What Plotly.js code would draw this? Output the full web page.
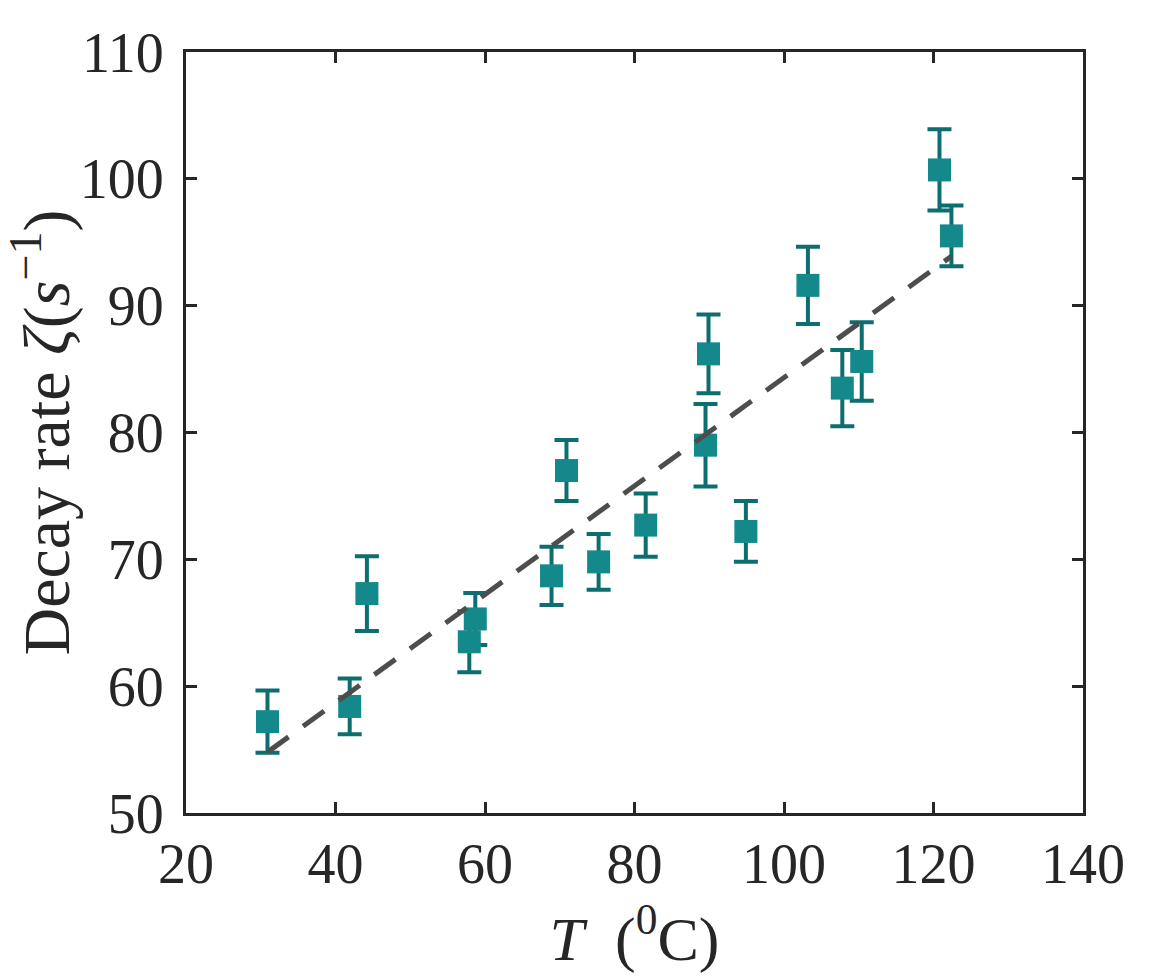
<!DOCTYPE html>
<html>
<head>
<meta charset="utf-8">
<script src="https://cdn.plot.ly/plotly-3.0.1.min.js"></script>
<style>
    html, body { margin: 0; padding: 0; background: #fff; }
    #decay-plot { width: 1156px; height: 978px; }
</style>
</head>
<body>
<div id="decay-plot"></div>
<script>
// temperature (deg C), decay rate (1/s) and its error
const temps = [30.9, 41.9, 44.2, 57.9, 58.7, 68.9, 70.9, 75.2, 81.5, 89.5, 89.9, 94.9, 103.2, 107.8, 110.4, 120.8, 122.4]
const rates = [57.2, 58.4, 67.3, 63.5, 65.3, 68.7, 77.0, 69.8, 72.7, 79.0, 86.2, 72.2, 91.6, 83.5, 85.6, 100.7, 95.5]
const errs = [2.45, 2.2, 2.95, 2.4, 2.05, 2.3, 2.4, 2.2, 2.5, 3.25, 3.1, 2.4, 3.05, 3.0, 3.1, 3.2, 2.4]

// linear fit, end points
const fitT = [30.9, 122.4]
const fitRate = [54.8, 93.9]

const xTicks = [20, 40, 60, 80, 100, 120, 140]
const yTicks = [50, 60, 70, 80, 90, 100, 110]

window.addEventListener('DOMContentLoaded', () => {
    plotDecay()
})

function plotDecay() {
    let target = document.getElementById('decay-plot')
    const font = 'Liberation Serif, Times New Roman, serif'
    const data = [{
        type: 'scatter',
        mode: 'markers',
        x: temps,
        y: rates,
        error_y: {
            type: 'data',
            array: errs,
            visible: true,
            color: '#0d6e70',
            thickness: 4,
            width: 12
        },
        marker: {
            symbol: 'square',
            size: 23,
            color: '#14898b'
        },
        hoverinfo: 'x+y'
    }, {
        type: 'scatter',
        mode: 'lines',
        x: fitT,
        y: fitRate,
        line: {
            color: '#4d4d4d',
            width: 5,
            dash: '26px,18px'
        }
    }]
    const axisBase = {
        showgrid: false,
        zeroline: false,
        showline: true,
        linecolor: '#262626',
        linewidth: 3,
        mirror: 'ticks',
        ticks: 'inside',
        ticklen: 11,
        tickwidth: 3,
        tickcolor: '#262626',
        tickfont: {family: font, size: 56, color: '#262626'}
    }
    const layout = {
        width: 1156,
        height: 978,
        margin: {l: 186, r: 73, t: 52, b: 165, pad: 0},
        showlegend: false,
        paper_bgcolor: '#ffffff',
        plot_bgcolor: '#ffffff',
        xaxis: Object.assign({}, axisBase, {
            range: [20, 140],
            tickvals: xTicks,
            ticklabelstandoff: 0,
            title: {
                text: '<i>T</i>  (<sup>0</sup>C)',
                font: {family: font, size: 62, color: '#262626'},
                standoff: 6
            }
        }),
        yaxis: Object.assign({}, axisBase, {
            range: [50, 110],
            tickvals: yTicks,
            ticklabelstandoff: 8,
            title: {
                text: 'Decay rate <i>ζ</i>(<i>s</i><sup>−1</sup>)',
                font: {family: font, size: 66, color: '#262626'},
                standoff: 36
            }
        })
    }
    const config = {responsive: false, displayModeBar: false}
    Plotly.newPlot(target, data, layout, config)
}
</script>
</body>
</html>
